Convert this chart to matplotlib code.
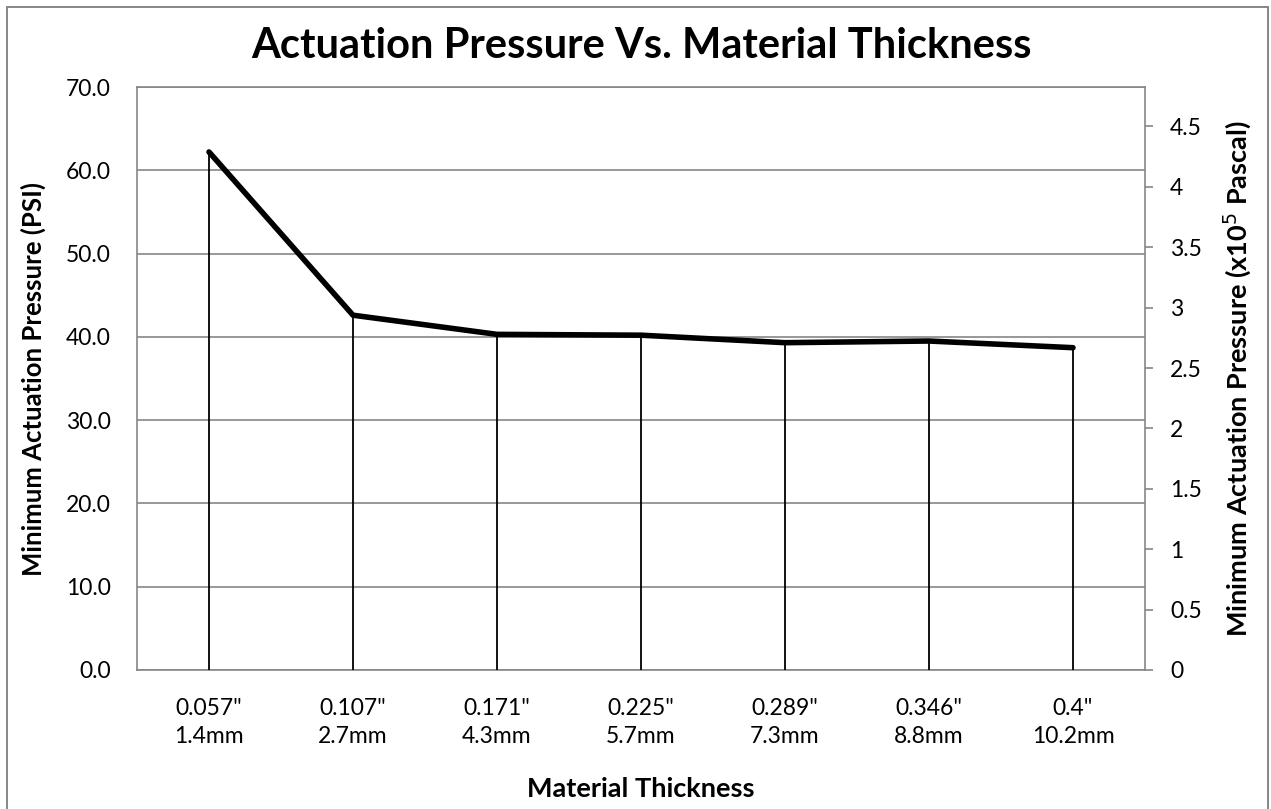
import matplotlib
matplotlib.use("Agg")
import matplotlib.pyplot as plt
from matplotlib.patches import Rectangle

plt.rcParams['font.family'] = ['Lato', 'DejaVu Sans']

categories = ['0.057"\n1.4mm', '0.107"\n2.7mm', '0.171"\n4.3mm', '0.225"\n5.7mm',
              '0.289"\n7.3mm', '0.346"\n8.8mm', '0.4"\n10.2mm']
pressure_psi = [62.2, 42.6, 40.3, 40.2, 39.3, 39.5, 38.7]
left_ticks = [0, 10, 20, 30, 40, 50, 60, 70]
right_ticks = [0, 0.5, 1, 1.5, 2, 2.5, 3, 3.5, 4, 4.5]
right_tick_labels = ['0', '0.5', '1', '1.5', '2', '2.5', '3', '3.5', '4', '4.5']
psi_to_1e5pa = 0.0689476

W, H = 1271, 809
fig = plt.figure(figsize=(W / 100, H / 100), dpi=100)
fig.patches.append(Rectangle((7 / W, -0.01), (W - 10) / W, 1 - 7 / H + 0.01,
                             transform=fig.transFigure, fill=False,
                             edgecolor='#868686', lw=1.4))

ax = fig.add_axes([137 / W, 1 - 670 / H, (1145 - 137) / W, (670 - 87) / H])
x = list(range(len(categories)))

ax.set_xlim(-0.5, len(categories) - 0.5)
ax.set_ylim(0, 70)
ax.set_yticks(left_ticks)
ax.set_yticklabels([f"{v:.1f}" for v in left_ticks], fontsize=16.5)
ax.set_xticks(x)
ax.set_xticklabels(categories, fontsize=16.5, linespacing=1.45)
ax.tick_params(axis='y', length=0, pad=19)
ax.tick_params(axis='x', length=0, pad=20)
ax.yaxis.grid(True, color='#868686', lw=1.2)
ax.set_axisbelow(True)
for s in ax.spines.values():
    s.set_color('#868686')
    s.set_linewidth(1.2)

ax.vlines(x, 0, pressure_psi, color='black', lw=1.3, zorder=3)
ax.plot(x, pressure_psi, color='black', lw=4, solid_capstyle='round',
        solid_joinstyle='round', zorder=4)

ax.set_ylabel('Minimum Actuation Pressure (PSI)', fontsize=18.5, fontweight='bold', labelpad=14)
ax.set_xlabel('Material Thickness', fontsize=19.5, fontweight='bold', labelpad=21)

ax2 = ax.twinx()
ax2.set_ylim(0, 70 * psi_to_1e5pa)
ax2.set_yticks(right_ticks)
ax2.set_yticklabels(right_tick_labels, fontsize=16.5)
ax2.tick_params(axis='y', length=6, width=1.2, color='#868686', pad=12)
for s in ax2.spines.values():
    s.set_visible(False)
ax2.set_ylabel('Minimum Actuation Pressure (x10$^{5}$ Pascal)', fontsize=19.5,
               fontweight='bold', labelpad=14)

fig.text(0.5 * (253 + 1030) / W, 1 - 46 / H, 'Actuation Pressure Vs. Material Thickness',
         ha='center', va='center', fontsize=30, fontweight='bold')

fig.savefig('out.png', dpi=100)
